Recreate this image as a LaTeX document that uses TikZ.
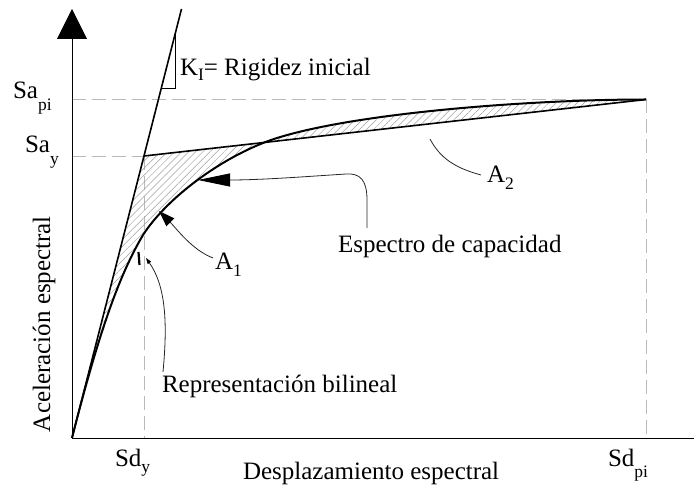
\documentclass[tikz,border=0pt]{standalone}
\usepackage{fontspec}
\setmainfont{Liberation Serif}
\usetikzlibrary{arrows.meta,patterns.meta}
\newcommand\sbs[2][6pt]{\raisebox{-#1}{\fontsize{17.5}{17.5}\selectfont #2}}
\begin{document}
\begin{tikzpicture}[x=1pt,y=-1pt,
  lbl/.style={inner sep=0pt, outer sep=0pt, anchor=base west, font=\fontsize{25}{29}\selectfont},
  axisline/.style={line width=1pt, black},
  guide/.style={gray!55, line width=0.9pt, dash pattern=on 14pt off 6pt},
  thickline/.style={line width=1.6pt, black},
  curveline/.style={line width=2pt, black},
  hatch/.style={pattern={Lines[angle=45,distance=5pt,line width=0.5pt]}, pattern color=gray!75},
  note/.style={gray!30!black, line width=0.8pt},
]
\useasboundingbox (0,0) rectangle (694,489);
\coordinate (O) at (72,438);
\coordinate (Ytop) at (72,9);
\coordinate (Xend) at (694,438);
\coordinate (Y) at (144,156);
\coordinate (M) at (143,235);
\coordinate (C) at (263,143);
\coordinate (P) at (646,99.5);
\coordinate (Ktop) at (181.5,9);
\coordinate (T1) at (175.4,33);
\coordinate (T2) at (175.4,89);
\coordinate (T3) at (161.1,89);
% guides
\draw[guide] (O |- P) -- (P);
\draw[guide] (O |- Y) -- (Y);
\draw[guide] (Y) -- (Y |- O);
\draw[guide] (P) -- (P |- O);
% hatched areas
\fill[hatch] (O) -- (Y) -- (C) .. controls (213,163) and (164.6,201.4) .. (M) .. controls (120,274) and (100,328) .. (O) -- cycle;
\fill[hatch] (C) -- (P) .. controls (520,99.5) and (333,115) .. (C) -- cycle;
% axes
\draw[axisline, -{Triangle[length=30pt,width=30pt]}] (O) -- (Ytop);
\draw[axisline] (O) -- (Xend);
% initial stiffness
\draw[thickline] (O) -- (Ktop);
\draw[line width=1pt] (T1) -- (T2) -- (T3);
% bilinear
\draw[thickline] (Y) -- (P);
% capacity curve
\draw[curveline] (O) .. controls (100,328) and (120,274) .. (M) .. controls (164.6,201.4) and (213,163) .. (C) .. controls (333,115) and (520,99.5) .. (P);
% labels
\node[lbl] (kl) at (180,76) {K\sbs[5pt]{I}= Rigidez inicial};
\node[lbl] (sapi) at (13,99) {Sa\sbs[12pt]{pi}};
\node[lbl] (say) at (25,153) {Sa\sbs[12pt]{y}};
\node[lbl] (sdy) at (115,466) {Sd\sbs[6pt]{y}};
\node[lbl] (sdpi) at (608,466) {Sd\sbs[11pt]{pi}};
\node[lbl] (xl) at (243,479) {Desplazamiento espectral};
\node[lbl, rotate=90] (yl) at (50,432) {Aceleración espectral};
\node[lbl] (esp) at (338,253) {Espectro de capacidad};
\node[lbl] (rep) at (162,392) {Representación bilineal};
\node[lbl] (a1) at (215,270) {A\sbs[7pt]{1}};
\node[lbl] (a2) at (487,183) {A\sbs[7pt]{2}};
% annotation connectors
\coordinate (espS) at (367,228);
\coordinate (espM) at (367,200);
\coordinate (espT) at (198,180);
\coordinate (a1S) at (213,258);
\coordinate (a1T) at (159,211);
\coordinate (a2S) at (481,175);
\coordinate (a2T) at (430,139);
\coordinate (repS) at (163,372);
\coordinate (repT) at (146,258);
\draw[note, -{Triangle[length=32pt,width=13pt,color=black]}] (espS) -- (espM) .. controls (367,180) and (360,173) .. (346,174) .. controls (300,177) and (260,180) .. (espT);
\draw[note, -{Triangle[length=16pt,width=11pt,color=black]}] (a1S) .. controls (192,250) and (176,228) .. (a1T);
\draw[note] (a2S) .. controls (455,168) and (440,158) .. (a2T);
\draw[note, -{Triangle[length=6pt,width=4pt,color=black]}] (repS) .. controls (168,320) and (165,285) .. (repT);
\draw[line width=2.2pt] (138.5,252) -- (139.5,265);
\end{tikzpicture}
\end{document}
